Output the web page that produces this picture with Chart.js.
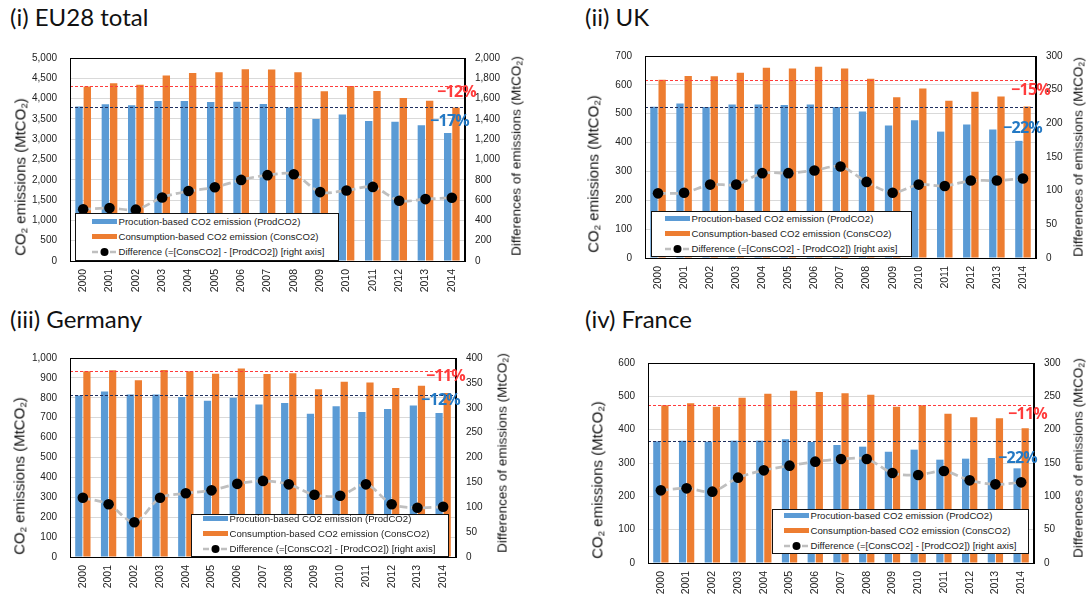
<!DOCTYPE html>
<html><head><meta charset="utf-8">
<script src="https://cdn.jsdelivr.net/npm/chart.js@4.4.0/dist/chart.umd.min.js"></script>
<style>
body{margin:0;background:#fff;width:1088px;height:602px;overflow:hidden;position:relative;font-family:"Liberation Sans",Arial,sans-serif;}
.cv{position:absolute;}
.title{position:absolute;font-family:Lato,sans-serif;font-size:24px;color:#111;white-space:nowrap;line-height:1;}
.ytitle{position:absolute;white-space:nowrap;transform:translate(-50%,-50%) rotate(-90deg);font-family:"Liberation Sans",Arial,sans-serif;color:#111;line-height:1}
.ytitle sub{font-size:0.65em;vertical-align:-0.25em}
.legend{position:absolute;background:#fff;border:1.5px solid #111;box-sizing:border-box;font-size:9.6px;color:#222}
.row{position:absolute;height:12px;display:flex;align-items:center;white-space:nowrap;transform:translate(0,-50%)}
.sw{width:25px;height:5px;margin-right:2px;display:inline-block}
.pct{position:absolute;font-family:"Open Sans",sans-serif;font-weight:700;font-size:16px;letter-spacing:-0.7px;line-height:1;white-space:nowrap;transform:translate(0,-50%)}
</style></head><body>
<script>
// ---- data ----
const years = ['2000','2001','2002','2003','2004','2005','2006','2007','2008','2009','2010','2011','2012','2013','2014'];

const euProd = [3805,3860,3836,3939,3939,3915,3923,3868,3789,3498,3608,3451,3428,3341,3152];
const euCons = [4300,4379,4340,4568,4630,4646,4725,4717,4646,4182,4308,4190,4017,3947,3781];
const euDiff = [509,522,506,626,689,726,799,846,855,679,695,730,594,610,623];

const ukProd = [524,535,523,532,532,530,532,523,508,459,477,438,463,445,406];
const ukCons = [618,631,630,642,659,657,663,657,621,557,587,545,576,560,525];
const ukDiff = [96,97,109,109,126,126,130,136,113,97,109,107,115,115,118];

const deProd = [812,832,817,817,804,785,800,766,774,720,758,729,744,761,723];
const deCons = [933,939,888,940,933,921,947,920,923,843,881,877,849,861,824];
const deDiff = [119,106,70,119,128,134,147,153,146,125,123,146,106,99,101];

const frProd = [365,367,364,367,367,371,363,354,349,334,340,310,313,315,284];
const frCons = [473,479,469,496,508,517,513,509,505,469,473,448,437,434,404];
const frDiff = [109,112,107,128,139,146,152,156,156,135,132,138,124,118,121];

const seriesLabels = ['Procution-based CO2 emission (ProdCO2)','Consumption-based CO2 emission (ConsCO2)','Difference (=[ConsCO2] - [ProdCO2]) [right axis]'];
const panelTitles = ['(i) EU28 total','(ii) UK','(iii) Germany','(iv) France'];
const leftAxisMax = [5000,700,1000,600];
const leftAxisStep = [500,100,100,100];
const rightAxisMax = [2000,300,400,300];
const rightAxisStep = [200,50,50,50];
const consChange = ['−12%','−15%','−11%','−11%'];
const prodChange = ['−17%','−22%','−12%','−22%'];

// ---- layout ----
const panels = [
  {title:panelTitles[0],prod:euProd,cons:euCons,diff:euDiff,lmax:leftAxisMax[0],lstep:leftAxisStep[0],rmax:rightAxisMax[0],rstep:rightAxisStep[0],
   l:70,t:49,r:465,b:261, tx:10,ty:5, lt:{x:21,y:177}, rt:{x:517,y:156},
   lg:{x:75,y:213,w:264,h:48,sw:17,rows:[9,24,39]},
   pc:{x:437,y:91,s:consChange[0]}, pp:{x:430,y:120,s:prodChange[0]}},
  {title:panelTitles[1],prod:ukProd,cons:ukCons,diff:ukDiff,lmax:leftAxisMax[1],lstep:leftAxisStep[1],rmax:rightAxisMax[1],rstep:rightAxisStep[1],
   l:645,t:47,r:1036,b:258, tx:585,ty:5, lt:{x:594,y:174}, rt:{x:1079,y:157},
   lg:{x:651,y:211,w:261,h:46,sw:14,rows:[8,23,38]},
   pc:{x:1011,y:89,s:consChange[1]}, pp:{x:1003,y:127,s:prodChange[1]}},
  {title:panelTitles[2],prod:deProd,cons:deCons,diff:deDiff,lmax:leftAxisMax[2],lstep:leftAxisStep[2],rmax:rightAxisMax[2],rstep:rightAxisStep[2],
   l:70,t:349,r:456,b:557, tx:10,ty:307, lt:{x:20,y:476}, rt:{x:503,y:453},
   lg:{x:191,y:514,w:258,h:43,sw:12,rows:[5,20,35]},
   pc:{x:426,y:375,s:consChange[2]}, pp:{x:421,y:399,s:prodChange[2]}},
  {title:panelTitles[3],prod:frProd,cons:frCons,diff:frDiff,lmax:leftAxisMax[3],lstep:leftAxisStep[3],rmax:rightAxisMax[3],rstep:rightAxisStep[3],
   l:648,t:354,r:1034,b:563, tx:585,ty:307, lt:{x:598,y:480}, rt:{x:1079,y:458},
   lg:{x:772,y:509,w:257,h:45,sw:12,rows:[7,22,37]},
   pc:{x:1008,y:413,s:consChange[3]}, pp:{x:998,y:457,s:prodChange[3]}}
];

function el(tag,cls,html,style,parent){const e=document.createElement(tag);if(cls)e.className=cls;if(html!=null)e.innerHTML=html;Object.assign(e.style,style||{});(parent||document.body).appendChild(e);return e;}

const fmt = v => Number(v).toLocaleString('en-US');

function makePanel(p){
  const L=60,R=48,T=10,B=40;
  const w=(p.r-p.l)+L+R, h=(p.b-p.t)+T+B;
  const c=document.createElement('canvas');
  c.className='cv'; c.width=w; c.height=h;
  Object.assign(c.style,{left:(p.l-L)+'px',top:(p.t-T)+'px',width:w+'px',height:h+'px'});
  document.body.appendChild(c);

  const refLines = {
    id:'refLines',
    afterDatasetsDraw(chart){
      const ctx=chart.ctx, a=chart.chartArea, ys=chart.scales.y;
      ctx.save();
      ctx.lineWidth=1.2;
      ctx.setLineDash([3,2]);
      ctx.strokeStyle='#FF3B3B';
      let yy=Math.round(ys.getPixelForValue(p.cons[0]))+0.5;
      ctx.beginPath();ctx.moveTo(a.left,yy);ctx.lineTo(a.right,yy);ctx.stroke();
      ctx.strokeStyle='#1F2F5E';
      yy=Math.round(ys.getPixelForValue(p.prod[0]))+0.5;
      ctx.beginPath();ctx.moveTo(a.left,yy);ctx.lineTo(a.right,yy);ctx.stroke();
      ctx.restore();
    },
    afterDraw(chart){
      const ctx=chart.ctx, a=chart.chartArea;
      ctx.save();ctx.strokeStyle='#000';ctx.lineWidth=1;ctx.setLineDash([]);
      ctx.strokeRect(Math.round(a.left)+0.5,Math.round(a.top)+0.5,Math.round(a.right-a.left)-1,Math.round(a.bottom-a.top));
      ctx.restore();
    }
  };

  const tickFont={size:10,family:'"Liberation Sans", Arial, sans-serif'};
  const xFont={size:10.5,family:'"Liberation Sans", Arial, sans-serif'};
  new Chart(c,{
    data:{labels:years,datasets:[
      {type:'bar',label:seriesLabels[0],data:p.prod,backgroundColor:'#5B9BD5',yAxisID:'y',order:2,categoryPercentage:0.63,barPercentage:0.89},
      {type:'bar',label:seriesLabels[1],data:p.cons,backgroundColor:'#ED7D31',yAxisID:'y',order:2,categoryPercentage:0.63,barPercentage:0.89},
      {type:'line',label:seriesLabels[2],data:p.diff,yAxisID:'y2',borderColor:'#BFBFBF',borderWidth:2.75,borderDash:[8,4],
       pointRadius:5.3,pointBackgroundColor:'#000',pointBorderColor:'#000',pointBorderWidth:0,tension:0.3,order:0}
    ]},
    options:{
      responsive:false,animation:false,devicePixelRatio:1,
      layout:{padding:{top:T,left:0,right:0,bottom:0}},
      plugins:{legend:{display:false},tooltip:{enabled:false},title:{display:false}},
      scales:{
        x:{offset:true,grid:{display:false,drawTicks:false},border:{color:'#000',width:1},
           ticks:{minRotation:90,maxRotation:90,autoSkip:false,padding:8,color:'#222',font:xFont},
           afterFit(s){s.height=B;}},
        y:{position:'left',min:0,max:p.lmax,
           ticks:{stepSize:p.lstep,padding:13,color:'#222',font:tickFont,callback:fmt},
           grid:{color:'#D9D9D9',drawTicks:false},border:{color:'#000',width:1},
           afterFit(s){s.width=L;}},
        y2:{position:'right',min:0,max:p.rmax,
           ticks:{stepSize:p.rstep,padding:10,color:'#222',font:tickFont,callback:fmt},
           grid:{display:false,drawTicks:false},border:{color:'#000',width:1},
           afterFit(s){s.width=R;}}
      }
    },
    plugins:[refLines]
  });

  el('div','title',p.title,{left:p.tx+'px',top:p.ty+'px'});
  el('div','ytitle','CO<sub>2</sub> emissions (MtCO<sub>2</sub>)',{left:p.lt.x+'px',top:p.lt.y+'px',fontSize:'15px'});
  el('div','ytitle','Differences of emissions (MtCO<sub>2</sub>)',{left:p.rt.x+'px',top:p.rt.y+'px',fontSize:'13.5px'});
  el('div','pct',p.pc.s,{left:p.pc.x+'px',top:p.pc.y+'px',color:'#FF3B3B'});
  el('div','pct',p.pp.s,{left:p.pp.x+'px',top:p.pp.y+'px',color:'#2479C4'});

  const lg=el('div','legend',null,{left:p.lg.x+'px',top:p.lg.y+'px',width:p.lg.w+'px',height:p.lg.h+'px'});
  const rows=[
    '<span class="sw" style="background:#5B9BD5"></span>'+seriesLabels[0],
    '<span class="sw" style="background:#ED7D31"></span>'+seriesLabels[1],
    '<svg width="25" height="10" style="margin-right:2px"><line x1="0" y1="5" x2="25" y2="5" stroke="#BFBFBF" stroke-width="2.5" stroke-dasharray="6,3"/><circle cx="12.5" cy="5" r="4" fill="#000"/></svg>'+seriesLabels[2]
  ];
  rows.forEach((r,i)=>{
    el('div','row',r,{left:(p.lg.sw-1.5)+'px',top:(p.lg.rows[i]-1.5)+'px'},lg);
  });
}

panels.forEach(makePanel);
</script>
</body></html>
